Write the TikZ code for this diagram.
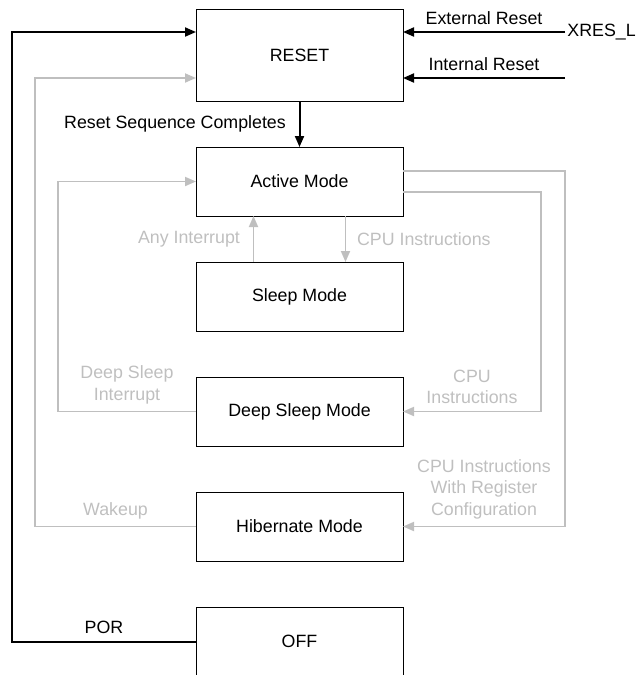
\documentclass[tikz,border=0pt]{standalone}
\usepackage{fontspec}
\setmainfont{Liberation Sans}
\usetikzlibrary{positioning,arrows.meta}
\tikzset{
  >={Triangle[length=5.5pt,width=4.5pt]},
  mode/.style={
    rectangle,
    draw=black, line width=0.5pt,
    minimum width=103.5pt,
    minimum height=34.5pt,
    inner sep=0pt, outer sep=0pt,
    text centered},
  blackline/.style={draw=black, line width=1pt, ->},
  grayline/.style={draw=black!25, line width=0.9pt, ->},
  graylabel/.style={text=black!25, align=center},
}

\begin{document}
\begin{tikzpicture}[x=0.5pt, y=-0.5pt, node distance=23pt, font=\fontsize{8.9}{10.7}\selectfont]
    \useasboundingbox (0,0) rectangle (637,675);

    % modes
    \node[mode, minimum height=46pt] (reset) at (299.5,55) {RESET};
    \node[mode, below=of reset] (active) {Active Mode};
    \node[mode, below=of active] (sleep) {Sleep Mode};
    \node[mode, below=of sleep] (deepsleep) {Deep Sleep Mode};
    \node[mode, below=of deepsleep] (hibernate) {Hibernate Mode};
    \node[mode, below=of hibernate] (off) {OFF};

    % columns and ports
    \coordinate (porcol) at (12,0);
    \coordinate (wakecol) at (35,0);
    \coordinate (dsicol) at (58,0);
    \coordinate (cpucol) at (541,0);
    \coordinate (regcol) at (565,0);
    \coordinate (resetpor) at ([yshift=11.5pt]reset.west);
    \coordinate (resetwake) at ([yshift=-11.5pt]reset.west);
    \coordinate (resetext) at ([yshift=11.5pt]reset.east);
    \coordinate (resetint) at ([yshift=-11.5pt]reset.east);
    \coordinate (actreg) at ([yshift=5.25pt]active.east);
    \coordinate (actcpu) at ([yshift=-5.25pt]active.east);

    % reset inputs
    \path[blackline] (resetext -| regcol) -- node[above] (extlabel) {External Reset} (resetext);
    \node[anchor=west, inner sep=1pt] (xreslabel) at (resetext -| regcol) {XRES\_L};
    \path[blackline] (resetint -| regcol) -- node[above] (intlabel) {Internal Reset} (resetint);
    \path[blackline] (reset) -- node[left=3pt] (rsclabel) {Reset Sequence Completes} (active);
    \path[blackline] (off.west) -- node[above] (porlabel) {POR} (off.west -| porcol) |- (resetpor);

    % wakeups
    \path[grayline] (hibernate.west) -- node[graylabel, above] (wakelabel) {Wakeup} (hibernate.west -| wakecol) |- (resetwake);
    \path[grayline] (deepsleep.west) -- node[graylabel, above] (dsilabel) {Deep Sleep\\Interrupt} (deepsleep.west -| dsicol) |- (active.west);
    \path[grayline] ([xshift=-23pt]sleep.north) -- node[graylabel, left=3pt] (anyintlabel) {Any Interrupt} ([xshift=-23pt]active.south);

    % cpu instructions
    \path[grayline] ([xshift=23pt]active.south) -- node[graylabel, right=2pt] (cpulabel) {CPU Instructions} ([xshift=23pt]sleep.north);
    \path[grayline] (actcpu) -- (actcpu -| cpucol) |- node[graylabel, pos=0.75, above] (cpudslabel) {CPU\\Instructions} (deepsleep.east);
    \path[grayline] (actreg) -- (actreg -| regcol) |- node[graylabel, pos=0.75, above] (reglabel) {CPU Instructions\\With Register\\Configuration} (hibernate.east);
\end{tikzpicture}
\end{document}
